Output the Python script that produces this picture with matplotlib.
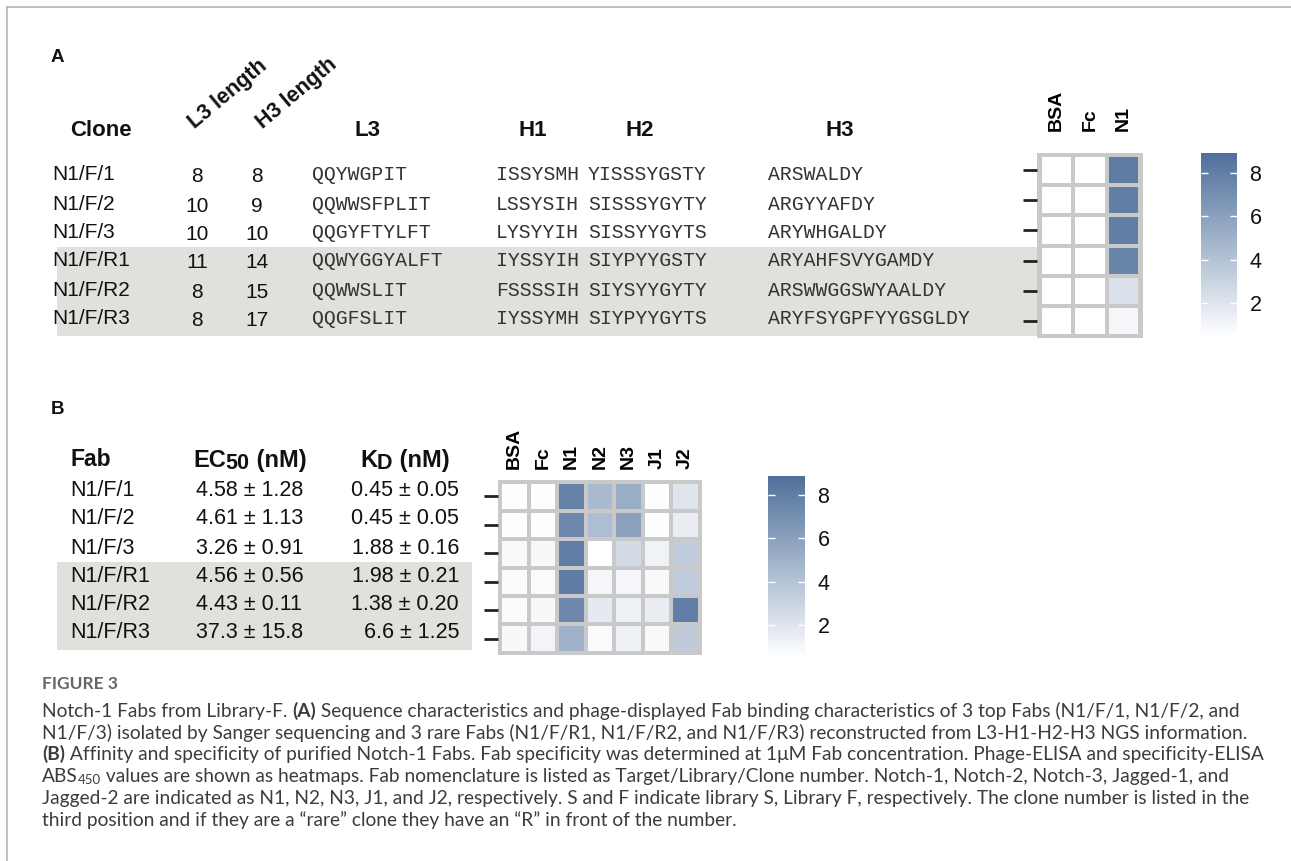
import numpy as np
import matplotlib
matplotlib.use("Agg")
import matplotlib.pyplot as plt
from matplotlib.colors import LinearSegmentedColormap, Normalize
from matplotlib.cm import ScalarMappable
from matplotlib.patches import Rectangle

W, H = 1291, 861

# ---------------- data: panel A ----------------
clones_a = ["N1/F/1", "N1/F/2", "N1/F/3", "N1/F/R1", "N1/F/R2", "N1/F/R3"]
l3_len = [8, 10, 10, 11, 8, 8]
h3_len = [8, 9, 10, 14, 15, 17]
seq_l3 = ["QQYWGPIT", "QQWWSFPLIT", "QQGYFTYLFT", "QQWYGGYALFT", "QQWWSLIT", "QQGFSLIT"]
seq_h1 = ["ISSYSMH", "LSSYSIH", "LYSYYIH", "IYSSYIH", "FSSSSIH", "IYSSYMH"]
seq_h2 = ["YISSSYGSTY", "SISSSYGYTY", "SISSYYGYTS", "SIYPYYGSTY", "SIYSYYGYTY", "SIYPYYGYTS"]
seq_h3 = ["ARSWALDY", "ARGYYAFDY", "ARYWHGALDY", "ARYAHFSVYGAMDY", "ARSWWGGSWYAALDY", "ARYFSYGPFYYGSGLDY"]
targets_a = ["BSA", "Fc", "N1"]
heat_a = [[0.4, 0.4, 8.2],
          [0.4, 0.4, 8.0],
          [0.4, 0.4, 8.0],
          [0.4, 0.4, 7.6],
          [0.4, 0.4, 2.2],
          [0.4, 0.4, 1.0]]

# ---------------- data: panel B ----------------
fabs_b = ["N1/F/1", "N1/F/2", "N1/F/3", "N1/F/R1", "N1/F/R2", "N1/F/R3"]
ec50 = ["4.58 ± 1.28", "4.61 ± 1.13", "3.26 ± 0.91", "4.56 ± 0.56", "4.43 ± 0.11", "37.3 ± 15.8"]
kd = ["0.45 ± 0.05", "0.45 ± 0.05", "1.88 ± 0.16", "1.98 ± 0.21", "1.38 ± 0.20", "6.6 ± 1.25"]
targets_b = ["BSA", "Fc", "N1", "N2", "N3", "J1", "J2"]
heat_b = [[0.5, 0.5, 7.8, 4.5, 5.3, 0.5, 2.0],
          [0.6, 0.6, 7.4, 4.3, 6.0, 0.6, 1.5],
          [0.8, 0.9, 8.0, 0.3, 2.6, 1.2, 3.4],
          [0.7, 0.7, 8.1, 1.0, 1.0, 0.8, 3.4],
          [0.7, 0.9, 7.4, 1.7, 1.3, 1.5, 8.0],
          [0.9, 1.1, 5.0, 0.7, 1.3, 0.8, 3.5]]
cbar_ticks = [2, 4, 6, 8]

caption_lines = [
    [("Notch-1 Fabs from Library-F. ", "n"), ("(A)", "b"),
     (" Sequence characteristics and phage-displayed Fab binding characteristics of 3 top Fabs (N1/F/1, N1/F/2, and", "n")],
    [("N1/F/3) isolated by Sanger sequencing and 3 rare Fabs (N1/F/R1, N1/F/R2, and N1/F/R3) reconstructed from L3-H1-H2-H3 NGS information.", "n")],
    [("(B)", "b"), (" Affinity and specificity of purified Notch-1 Fabs. Fab specificity was determined at 1\u03bcM Fab concentration. Phage-ELISA and specificity-ELISA", "n")],
    [("ABS", "n"), ("450", "s"), (" values are shown as heatmaps. Fab nomenclature is listed as Target/Library/Clone number. Notch-1, Notch-2, Notch-3, Jagged-1, and", "n")],
    [("Jagged-2 are indicated as N1, N2, N3, J1, and J2, respectively. S and F indicate library S, Library F, respectively. The clone number is listed in the", "n")],
    [("third position and if they are a \u201crare\u201d clone they have an \u201cR\u201d in front of the number.", "n")],
]

# ---------------- styles ----------------
SANS = "Liberation Sans"
MONO = "Liberation Mono"
CAP = "Lato"
cmap = LinearSegmentedColormap.from_list("bl", ["#ffffff", "#a6b7cd", "#4f6f9b"])
norm = Normalize(0.45, 8.9)
GRID = "#c9c9c9"
BAND = "#e0e1dc"
INK = "#111111"

fig = plt.figure(figsize=(W / 100, H / 100), dpi=100)
ax0 = fig.add_axes([0, 0, 1, 1])
ax0.set_xlim(0, W)
ax0.set_ylim(H, 0)
ax0.axis("off")
renderer = fig.canvas.get_renderer()

# frame lines
ax0.plot([7, 7], [H, 7], color="#b5b5b5", lw=1.2)
ax0.plot([7, W], [7, 7], color="#b5b5b5", lw=1.2)


def px_axes(x0, y0, x1, y1):
    return fig.add_axes([x0 / W, 1 - y1 / H, (x1 - x0) / W, (y1 - y0) / H])


def heatmap(rect, data, labels, pad):
    ax = px_axes(*rect)
    arr = np.array(data)
    nr, nc = arr.shape
    m = 0.08
    ax.pcolormesh(np.arange(nc + 1), np.arange(nr + 1), arr, cmap=cmap, norm=norm,
                  edgecolors=GRID, linewidth=2.8)
    ax.set_xlim(-m, nc + m)
    ax.set_ylim(nr + m, -m)
    ax.set_facecolor(GRID)
    for s in ax.spines.values():
        s.set_visible(False)
    ax.set_xticks(np.arange(nc) + 0.5)
    ax.set_xticklabels(labels, rotation=90, fontweight="bold", fontsize=14, family=SANS)
    ax.xaxis.tick_top()
    ax.tick_params(axis="x", length=0, pad=pad)
    ax.set_yticks(np.arange(nr) + 0.5)
    ax.set_yticklabels([])
    ax.tick_params(axis="y", length=10, width=2.0, color="#222222", direction="out")
    return ax


def colorbar(rect):
    cax = px_axes(*rect)
    cb = fig.colorbar(ScalarMappable(norm=norm, cmap=cmap), cax=cax, ticks=cbar_ticks)
    cb.outline.set_visible(False)
    cax.tick_params(axis="y", direction="in", length=5, width=1, color="white",
                    left=True, right=True, labelleft=False, labelright=True,
                    labelsize=15.5, labelcolor=INK, pad=9)
    for t in cax.get_yticklabels():
        t.set_family(SANS)
    return cb


def rich(x, y, segs, base_kw, sub_kw=None, sub_dy=4):
    for txt, kind in segs:
        if kind == "s":
            kw = dict(base_kw)
            kw.update(sub_kw or {})
            t = ax0.text(x, y + sub_dy, txt, **kw)
        elif kind == "b":
            t = ax0.text(x, y, txt, **{**base_kw, "fontweight": "bold"})
        else:
            t = ax0.text(x, y, txt, **base_kw)
        bb = t.get_window_extent(renderer)
        x += bb.width
    return x


# ---------------- panel A ----------------
ax0.add_patch(Rectangle((57, 247), 980, 89, color=BAND, zorder=0, lw=0))
ax0.text(51, 58, "A", fontsize=13.5, fontweight="bold", family=SANS, va="center", color=INK)
ax0.text(70, 131, "Clone", fontsize=16, fontweight="bold", family=SANS, va="center", color=INK)
ax0.text(195, 129, "L3 length", fontsize=15.5, fontweight="bold", family=SANS,
         rotation=40, rotation_mode="anchor", ha="left", va="baseline", color=INK)
ax0.text(263, 129, "H3 length", fontsize=15.5, fontweight="bold", family=SANS,
         rotation=40, rotation_mode="anchor", ha="left", va="baseline", color=INK)
for lab, xc in zip(["L3", "H1", "H2", "H3"], [368, 533, 640, 840]):
    ax0.text(xc, 131, lab, fontsize=16, fontweight="bold", family=SANS, va="center", ha="center", color=INK)

rows_a = [175, 204, 232, 261, 290, 318]
for i, y in enumerate(rows_a):
    ax0.text(52, y, clones_a[i], fontsize=15, family=SANS, va="center", color=INK)
    ax0.text(197, y + 2, str(l3_len[i]), fontsize=15, family=SANS, va="center", ha="center", color=INK)
    ax0.text(257, y + 2, str(h3_len[i]), fontsize=15, family=SANS, va="center", ha="center", color=INK)
    kw = dict(fontsize=14.2, family=MONO, va="center", color="#333333")
    ax0.text(312, y, seq_l3[i], **kw)
    ax0.text(496, y, seq_h1[i], **kw)
    ax0.text(588, y, seq_h2[i], **kw)
    ax0.text(768, y, seq_h3[i], **kw)

heatmap((1037, 153, 1143, 338), heat_a, targets_a, pad=16)
colorbar((1201, 153, 1237, 337))

# ---------------- panel B ----------------
ax0.add_patch(Rectangle((57, 562), 415, 88, color=BAND, zorder=0, lw=0))
ax0.text(51, 410, "B", fontsize=13.5, fontweight="bold", family=SANS, va="center", color=INK)
ax0.text(70, 460, "Fab", fontsize=16.5, fontweight="bold", family=SANS, va="center", color=INK)

hkw = dict(fontsize=17, fontweight="bold", family=SANS, va="baseline", color=INK)
rich(193, 467, [("EC", "n"), ("50", "s"), (" (nM)", "n")], hkw, dict(fontsize=15.5), sub_dy=2)
rich(360, 467, [("K", "n"), ("D", "s"), (" (nM)", "n")], hkw, dict(fontsize=15.5), sub_dy=2)

rows_b = [491, 519, 548, 576, 605, 633]
for i, y in enumerate(rows_b):
    ax0.text(70, y, fabs_b[i], fontsize=15.5, family=SANS, va="center", color=INK)
    ax0.text(196, y, ec50[i], fontsize=15.5, family=SANS, va="center", color=INK)
    ax0.text(459, y, kd[i], fontsize=15.5, family=SANS, va="center", ha="right", color=INK)

heatmap((498, 480, 702, 655), heat_b, targets_b, pad=8)
colorbar((768, 476, 805, 658))

# ---------------- caption ----------------
ax0.text(42, 684, "FIGURE 3", fontsize=12.5, family=CAP, fontweight="bold",
         color="#666666", va="center")
ckw = dict(fontsize=13.8, family=CAP, va="baseline", color="#3c3c3c")
y = 717
for line in caption_lines:
    rich(42, y, line, ckw, dict(fontsize=9.5), sub_dy=2)
    y += 21.7

fig.savefig("out.png", dpi=100)
